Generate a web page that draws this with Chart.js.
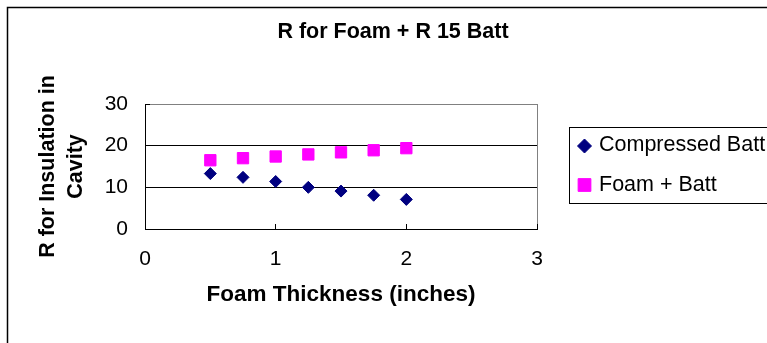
<!DOCTYPE html>
<html><head><meta charset="utf-8">
<script src="https://cdn.jsdelivr.net/npm/chart.js@4.4.0/dist/chart.umd.min.js"></script>
<style>html,body{margin:0;padding:0;background:#fff}#wrap{width:767px;height:343px;position:relative}canvas{display:block}</style>
</head><body><div id="wrap"><canvas id="c" width="767" height="343"></canvas></div>
<script>
const chartTitle = 'R for Foam + R 15 Batt';
const xAxisTitle = 'Foam Thickness (inches)';
const yAxisTitle = ['R for Insulation in', 'Cavity'];
const seriesNames = ['Compressed Batt', 'Foam + Batt'];
const thickness = [0.5, 0.75, 1, 1.25, 1.5, 1.75, 2];
const compressedBatt = [13.3, 12.4, 11.4, 10.0, 9.1, 8.1, 7.1];
const foamPlusBatt = [16.5, 17.0, 17.4, 17.9, 18.4, 18.9, 19.4];
const xTicks = [0, 1, 2, 3];
const yTicks = [0, 10, 20, 30];

const FONT = '"Liberation Sans", Arial, sans-serif';

const sideLegend = {
  id: 'sideLegend',
  beforeInit(chart) {
    const box = {
      position: 'right', weight: 10, fullSize: false, options: {},
      width: 0, height: 0, left: 0, top: 0, right: 0, bottom: 0,
      isHorizontal() { return false; },
      update(maxW, maxH) { this.width = 230; this.height = maxH; },
      draw() {
        const ctx = chart.ctx;
        const cy = (this.top + this.bottom) / 2 - 1.5;
        const bx = this.left + 32;
        ctx.save();
        ctx.strokeStyle = '#000'; ctx.lineWidth = 1;
        ctx.strokeRect(Math.round(bx) + 0.5, Math.round(cy - 38) + 0.5, 400, 76);
        chart.data.datasets.forEach((ds, i) => {
          const y = cy - 20 + i * 40;
          ctx.fillStyle = ds.backgroundColor; ctx.strokeStyle = ds.borderColor; ctx.lineWidth = 1;
          Chart.helpers.drawPoint(ctx, {pointStyle: ds.pointStyle, radius: ds.pointRadius + 1, borderWidth: 1, rotation: 0}, bx + 15.5, y + (i === 0 ? 1 : 0));
          ctx.fillStyle = '#000'; ctx.font = '21.5px ' + FONT; ctx.textBaseline = 'middle'; ctx.textAlign = 'left';
          ctx.fillText(ds.label, bx + 30, y);
        });
        ctx.restore();
      }
    };
    Chart.layouts.addBox(chart, box);
  }
};

const frame = {
  id: 'frame',
  beforeDraw(chart) {
    const ctx = chart.ctx;
    ctx.save();
    ctx.fillStyle = '#fff'; ctx.fillRect(0, 0, chart.width, chart.height);
    ctx.strokeStyle = '#000'; ctx.lineWidth = 1.5;
    ctx.beginPath(); ctx.moveTo(7.5, chart.height); ctx.lineTo(7.5, 7.5); ctx.lineTo(chart.width, 7.5); ctx.stroke();
    ctx.restore();
  }
};

new Chart(document.getElementById('c'), {
  type: 'scatter',
  data: {
    datasets: [
      { label: seriesNames[0], data: thickness.map((x, i) => ({x, y: compressedBatt[i]})),
        pointStyle: 'rectRot', pointRadius: 6, pointBorderWidth: 1,
        backgroundColor: '#000080', borderColor: '#000080' },
      { label: seriesNames[1], data: thickness.map((x, i) => ({x, y: foamPlusBatt[i]})),
        pointStyle: 'rect', pointRadius: 8, pointBorderWidth: 1,
        backgroundColor: '#FF00FF', borderColor: '#FF00FF' }
    ]
  },
  options: {
    responsive: false, animation: false, devicePixelRatio: 1,
    layout: { padding: { left: 19, right: 0, top: 0, bottom: 0 } },
    plugins: {
      legend: { display: false },
      tooltip: { enabled: false },
      title: { display: true, text: chartTitle, color: '#000',
        font: { family: FONT, size: 21.5, weight: 'bold', lineHeight: 1.2 },
        padding: { top: 19.5, bottom: 58.7 } }
    },
    scales: {
      x: {
        type: 'linear', position: 'bottom', min: xTicks[0], max: xTicks[xTicks.length - 1],
        afterBuildTicks: s => { s.ticks = xTicks.map(v => ({value: v})); },
        afterFit: s => { s.height = 114; },
        border: { display: true, color: '#000', width: 1 },
        grid: { color: c => (c.tick && c.tick.value === xTicks[xTicks.length - 1]) ? '#808080' : 'rgba(0,0,0,0)',
          tickColor: '#000', tickLength: -5, drawTicks: true, lineWidth: 1 },
        ticks: { color: '#000', padding: 23, maxRotation: 0, font: { family: FONT, size: 21 } },
        title: { display: true, text: xAxisTitle, color: '#000',
          font: { family: FONT, size: 22.5, weight: 'bold', lineHeight: 1.2 }, padding: { top: 0, bottom: 35 } }
      },
      y: {
        type: 'linear', position: 'left', min: yTicks[0], max: yTicks[yTicks.length - 1],
        afterBuildTicks: s => { s.ticks = yTicks.map(v => ({value: v})); },
        afterFit: s => { s.width = 126; },
        border: { display: true, color: '#000', width: 1 },
        grid: { color: c => (c.tick && c.tick.value === yTicks[yTicks.length - 1]) ? '#808080' : '#000',
          tickColor: '#000', tickLength: -5, drawTicks: true, lineWidth: 1 },
        ticks: { color: '#000', padding: 22, font: { family: FONT, size: 21 } },
        title: { display: true, text: yAxisTitle, color: '#000',
          font: { family: FONT, size: 21.5, weight: 'bold', lineHeight: 1.3 }, padding: { top: 15, bottom: 0 } }
      }
    }
  },
  plugins: [sideLegend, frame]
});
</script>
</body></html>
